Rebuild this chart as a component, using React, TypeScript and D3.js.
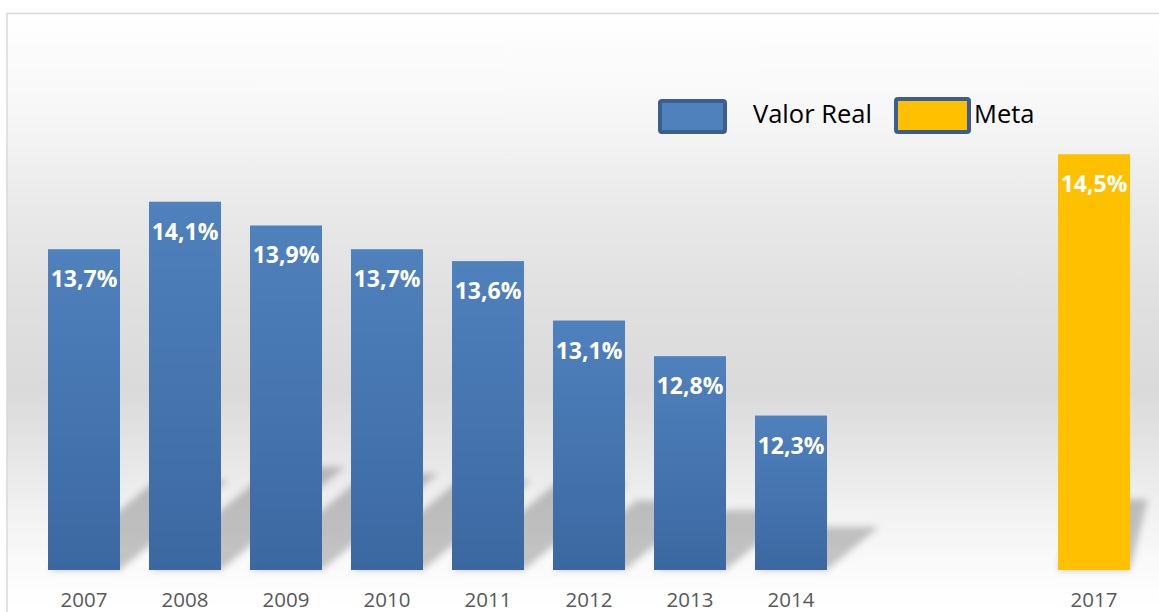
import React from 'react';
import * as d3 from 'd3';

const years = ['2007','2008','2009','2010','2011','2012','2013','2014','2015','2016','2017'];
const realYears = ['2007','2008','2009','2010','2011','2012','2013','2014'];
const realValues = [13.7, 14.1, 13.9, 13.7, 13.6, 13.1, 12.8, 12.3];
const metaYears = ['2017'];
const metaValues = [14.5];
const tickLabels = ['2007','2008','2009','2010','2011','2012','2013','2014','2017'];
const legendLabels = ['Valor Real', 'Meta'];

const W = 1159, H = 612;
const FONT = '"Open Sans", "DejaVu Sans", sans-serif';

const fmt = (v: number) => v.toFixed(1).replace('.', ',') + '%';

export default function App() {
  const x = d3.scaleBand<string>().domain(years).range([33.5, 1144.5]).paddingInner(0.287).paddingOuter(0.1435);
  const y = d3.scaleLinear().domain([11, 15]).range([570, 94.8]);
  const bw = x.bandwidth();
  const base = y(11);

  const shadowPath = (xv: string, v: number, hr: number, skew: number) => {
    const x0 = x(xv)!; const x1 = x0 + bw;
    const h = (base - y(v)) * hr;
    const dx = h * skew;
    const p = d3.path();
    p.moveTo(x0, base);
    p.lineTo(x1, base);
    p.lineTo(x1 + dx, base - h);
    p.lineTo(x0 + dx, base - h);
    p.closePath();
    return p.toString();
  };

  return (
    <svg width={W} height={H} style={{ position: 'absolute', left: 0, top: 0, background: '#fff' }}>
      <defs>
        <linearGradient id="bg" gradientUnits="userSpaceOnUse" x1="0" y1="13" x2="0" y2="612">
          <stop offset="0" stopColor="#ffffff" />
          <stop offset="0.18" stopColor="#f6f6f6" />
          <stop offset="0.31" stopColor="#eaeaea" />
          <stop offset="0.48" stopColor="#e0e0e0" />
          <stop offset="0.63" stopColor="#dadada" />
          <stop offset="0.73" stopColor="#e5e5e5" />
          <stop offset="0.81" stopColor="#efefef" />
          <stop offset="0.88" stopColor="#f6f6f6" />
          <stop offset="0.95" stopColor="#fdfdfd" />
          <stop offset="1" stopColor="#ffffff" />
        </linearGradient>
        <linearGradient id="blue" x1="0" y1="0" x2="0" y2="1">
          <stop offset="0" stopColor="#4f81bd" />
          <stop offset="1" stopColor="#3c68a1" />
        </linearGradient>
        <filter id="blur" x="-50%" y="-50%" width="200%" height="200%">
          <feGaussianBlur stdDeviation="3.5" />
        </filter>
      </defs>
      <rect x={7} y={13.5} width={1170} height={620} fill="url(#bg)" stroke="#d9d9d9" strokeWidth={1.5} />

      <g filter="url(#blur)">
        {realYears.map((yr, i) => (
          <path key={'s' + yr} d={shadowPath(yr, realValues[i], 0.28, 1.2)} fill="#000" fillOpacity={0.22} />
        ))}
        {metaYears.map((yr, i) => (
          <path key={'sm' + yr} d={shadowPath(yr, metaValues[i], 0.17, 0.25)} fill="#000" fillOpacity={0.22} />
        ))}
      </g>

      {realYears.map((yr, i) => (
        <rect key={yr} x={x(yr)} y={y(realValues[i])} width={bw} height={base - y(realValues[i])} fill="url(#blue)" />
      ))}
      {metaYears.map((yr, i) => (
        <rect key={yr} x={x(yr)} y={y(metaValues[i])} width={bw} height={base - y(metaValues[i])} fill="#ffc000" />
      ))}

      {realYears.map((yr, i) => (
        <text key={'l' + yr} x={x(yr)! + bw / 2} y={y(realValues[i]) + 38} textAnchor="middle" fill="#fff"
          fontFamily={FONT} fontWeight="bold" fontSize={23}>{fmt(realValues[i])}</text>
      ))}
      {metaYears.map((yr, i) => (
        <text key={'lm' + yr} x={x(yr)! + bw / 2} y={y(metaValues[i]) + 38} textAnchor="middle" fill="#fff"
          fontFamily={FONT} fontWeight="bold" fontSize={23}>{fmt(metaValues[i])}</text>
      ))}

      {tickLabels.map((t) => (
        <text key={'t' + t} x={x(t)! + bw / 2} y={607} textAnchor="middle" fill="#595959"
          fontFamily={FONT} fontSize={20.5}>{t}</text>
      ))}

      <g>
        <rect x={660} y={101} width={65} height={31} rx={2} fill="#4f81bd" stroke="#3b5e8e" strokeWidth={4} />
        <text x={753} y={123} fontFamily={FONT} fontSize={25.5} fill="#000">{legendLabels[0]}</text>
        <rect x={896} y={99} width={73} height={33} rx={2} fill="#ffc000" stroke="#3b5e8e" strokeWidth={4} />
        <text x={974} y={123} fontFamily={FONT} fontSize={25.5} fill="#000">{legendLabels[1]}</text>
      </g>
    </svg>
  );
}
